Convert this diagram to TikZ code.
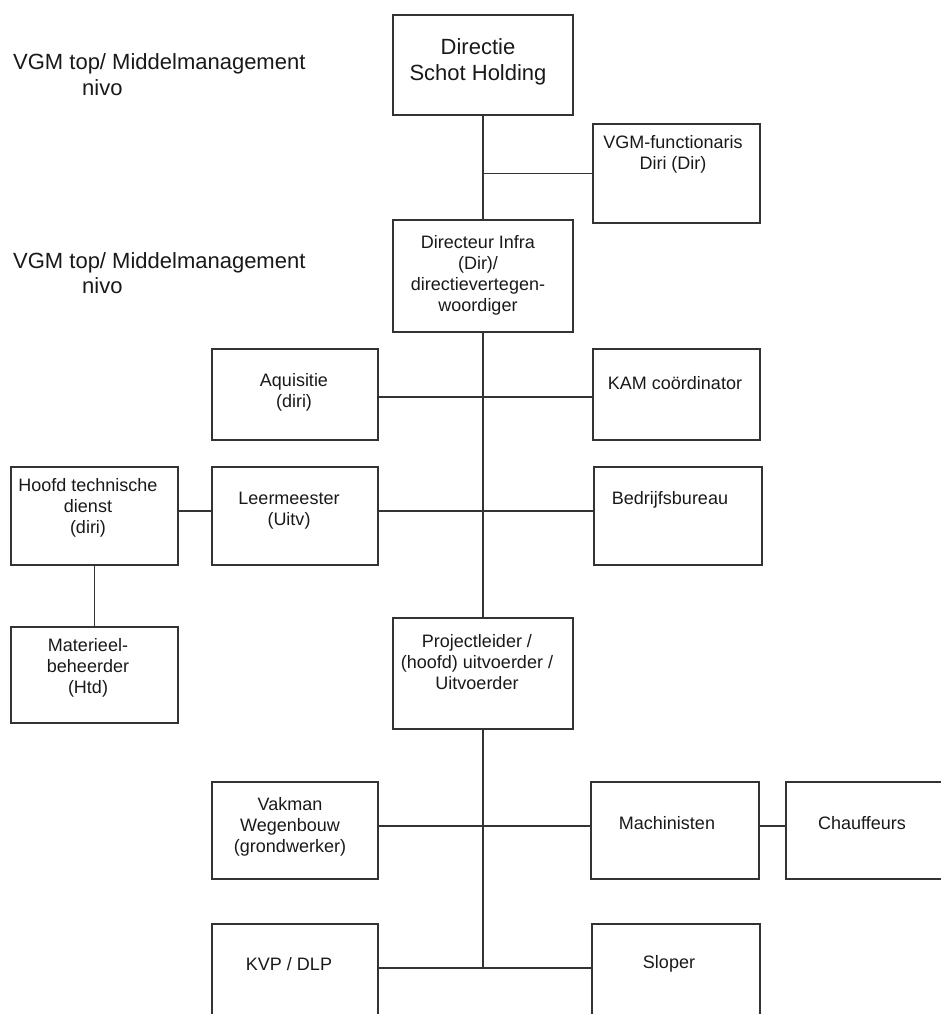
\documentclass[tikz,border=0pt]{standalone}
\usepackage{fontspec}
\setmainfont{Liberation Sans}
\usepackage{tikz}
\usetikzlibrary{positioning,calc}

\begin{document}
\begin{tikzpicture}[x=1pt,y=-1pt,
	unit/.style={draw=black!80,line width=1.8pt,inner sep=0pt,minimum width=#1},
	unit/.default=167,
	lbl/.style={inner sep=0pt,align=center,text=black!90,font=\fontsize{18}{21}\selectfont},
	big/.style={inner sep=0pt,align=center,text=black!90,font=\fontsize{22}{25.5}\selectfont},
	conn/.style={draw=black!80,line width=1.8pt}]

\path[use as bounding box] (0,0) rectangle (941,1014);
\clip (0,0) rectangle (941,1014);

% niveaus links
\node[big,align=left,anchor=west] (niv1) at (13,74.5) {VGM top/ Middelmanagement\\\hspace*{69pt}nivo};
\node[big,align=left,anchor=west] (niv2) at (13,273) {VGM top/ Middelmanagement\\\hspace*{69pt}nivo};

% directie
\node[unit=180,minimum height=100] (dir) at (483,65) {};
\node[big] (dir-t) at (478,62) {Directie\\Schot Holding};

\node[unit,minimum height=99] (vgmf) at (676.5,173.5) {};
\node[lbl] (vgmf-t) at (673,154) {VGM-functionaris\\Diri (Dir)};

\node[unit=180,minimum height=112] (infra) at (483,276) {};
\node[lbl] (infra-t) at (478,275) {Directeur Infra\\(Dir)/\\directievertegen-\\woordiger};

% staf
\node[unit=166,minimum height=91] (aq) at (295,394.5) {};
\node[lbl] (aq-t) at (294,392.5) {Aquisitie\\(diri)};
\node[unit,minimum height=91] (kam) at (676.5,394.5) {};
\node[lbl] (kam-t) at (675,383) {KAM coördinator};

\node[unit,minimum height=98] (htd) at (94.5,516) {};
\node[lbl] (htd-t) at (88,508) {Hoofd technische\\dienst\\(diri)};
\node[unit=166,minimum height=98] (lm) at (295,516) {};
\node[lbl] (lm-t) at (289,510.5) {Leermeester\\(Uitv)};
\node[unit=168,minimum height=98] (bb) at (678,516) {};
\node[lbl] (bb-t) at (670,500) {Bedrijfsbureau};

\node[unit,minimum height=96] (mat) at (94.5,675) {};
\node[lbl] (mat-t) at (88,668) {Materieel-\\beheerder\\(Htd)};

% uitvoering
\node[unit=180,minimum height=111] (proj) at (483,673.5) {};
\node[lbl] (proj-t) at (477,662) {Projectleider /\\(hoofd) uitvoerder /\\Uitvoerder};

\node[unit=166,minimum height=97] (vak) at (295,830.5) {};
\node[lbl] (vak-t) at (290,826.5) {Vakman\\Wegenbouw\\(grondwerker)};
\node[unit=168,minimum height=97] (mach) at (675,830.5) {};
\node[lbl] (mach-t) at (667,823) {Machinisten};
\node[unit,minimum height=97] (chf) at (869.5,830.5) {};
\node[lbl] (chf-t) at (862,823) {Chauffeurs};

\node[unit=166,minimum height=97] (kvp) at (295,972.5) {};
\node[lbl] (kvp-t) at (289,964) {KVP / DLP};
\node[unit=168,minimum height=97] (slp) at (676,972.5) {};
\node[lbl] (slp-t) at (669,964) {Sloper};

% lijnen
\draw[conn] (dir.south) -- (infra.north);
\draw[conn] (vgmf.west) -- (vgmf.west -| dir.south);
\draw[conn] (infra.south) -- (proj.north);
\draw[conn] ([yshift=-2.5pt]aq.east) -- ([yshift=-2.5pt]kam.west);
\draw[conn] ([yshift=5pt]htd.east) -- ([yshift=5pt]lm.west);
\draw[conn] ([yshift=5pt]lm.east) -- ([yshift=5pt]bb.west);
\draw[conn] (htd.south -| mat.north) -- (mat.north);
\draw[conn] (proj.south) -- ([yshift=4.5pt]kvp.east -| proj.south);
\draw[conn] ([yshift=4.5pt]vak.east) -- ([yshift=4.5pt]mach.west);
\draw[conn] ([yshift=4.5pt]mach.east) -- ([yshift=4.5pt]chf.west);
\draw[conn] ([yshift=4.5pt]kvp.east) -- ([yshift=4.5pt]slp.west);

\end{tikzpicture}
\end{document}
